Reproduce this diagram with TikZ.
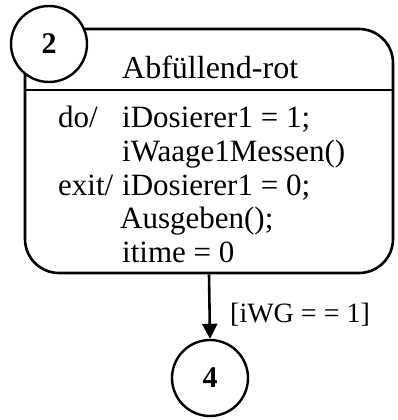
\documentclass[tikz,border=0pt]{standalone}
\usepackage{fontspec}
\setmainfont{Liberation Serif}
\usetikzlibrary{arrows.meta}
\tikzset{
  x=1pt, y=-1pt,
  statebox/.style={draw, line width=2.6pt, rounded corners=34pt, inner sep=0pt,
    minimum width=368pt, minimum height=244pt},
  statenum/.style={draw, circle, line width=2.4pt, fill=white, inner sep=0pt,
    minimum size=76pt, font=\fontsize{30}{30}\selectfont\bfseries},
  bodytext/.style={anchor=base west, inner sep=0pt, font=\fontsize{31}{34}\selectfont},
  titletext/.style={bodytext, font=\fontsize{32}{34}\selectfont},
  guard/.style={anchor=base west, inner sep=0pt, font=\fontsize{28}{30}\selectfont},
  trans/.style={line width=2.6pt, -{Triangle[width=15pt,length=15pt]}}
}
\begin{document}
\begin{tikzpicture}
\useasboundingbox (0,0) rectangle (397,420);
% state with its compartments
\node[statebox] (box) at (209,151) {};
\draw[line width=2.4pt] (box.west |- 0,90) -- (box.east |- 0,90);
\node[statenum] (s2) at (49,44) {2};
\node[titletext] (title) at (122,78) {Abfüllend-rot};
% activities
\node[bodytext] (kdo) at (58,127) {do/};
\node[bodytext] (a1) at (122,127) {iDosierer1 = 1;};
\node[bodytext] (a2) at (122,161) {iWaage1Messen()};
\node[bodytext] (kexit) at (58,195) {exit/};
\node[bodytext] (a3) at (122,195) {iDosierer1 = 0;};
\node[bodytext] (a4) at (120,228) {Ausgeben();};
\node[bodytext] (a5) at (122,262) {itime = 0};
% successor state and transition
\node[statenum] (s4) at (210,378) {4};
\draw[trans] (box.south) -- (s4.north);
\node[guard] (g) at (230,322) {[iWG = = 1]};
\end{tikzpicture}
\end{document}
